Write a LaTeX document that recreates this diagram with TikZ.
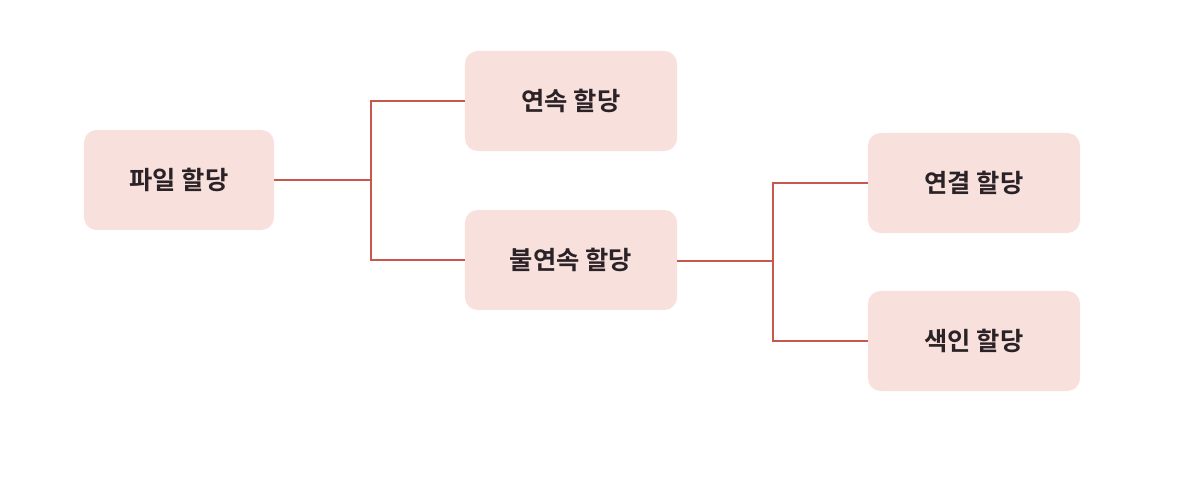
\documentclass[tikz,border=0pt]{standalone}
\usepackage{fontspec}
\newfontfamily\korfont{Noto Sans CJK KR}[BoldFont={* Bold}]
\usetikzlibrary{positioning}
\definecolor{allocfill}{HTML}{F8E1DD}
\definecolor{allocline}{HTML}{C8574E}
\definecolor{alloctext}{HTML}{2A2226}
\tikzset{
  font=\korfont\bfseries\fontsize{18}{21}\selectfont,
  box/.style={fill=allocfill,rounded corners=9pt,text=alloctext,
              minimum height=2.5cm,align=center,inner sep=4pt},
  link/.style={draw=allocline,line width=1.1pt},
}
\begin{document}
\begin{tikzpicture}[x=0.025cm,y=-0.025cm]
  \useasboundingbox (0,0) rectangle (1202,486);

  \node[box,minimum width=4.75cm] (file) at (179,180) {파일 할당};
  \node[box,minimum width=5.3cm] (contig) at (571,101) {연속 할당};
  \node[box,minimum width=5.3cm] (noncontig) at (571,260) {불연속 할당};
  \node[box,minimum width=5.3cm] (linked) at (974,183) {연결 할당};
  \node[box,minimum width=5.3cm] (indexed) at (974,341) {색인 할당};

  \coordinate (split1) at (371,180);
  \coordinate (split2) at (773,261);

  \draw[link] (file) -- (split1) |- (contig);
  \draw[link] (split1) |- (noncontig);
  \draw[link] (noncontig.east |- split2) -- (split2) |- (linked);
  \draw[link] (split2) |- (indexed);
\end{tikzpicture}
\end{document}
